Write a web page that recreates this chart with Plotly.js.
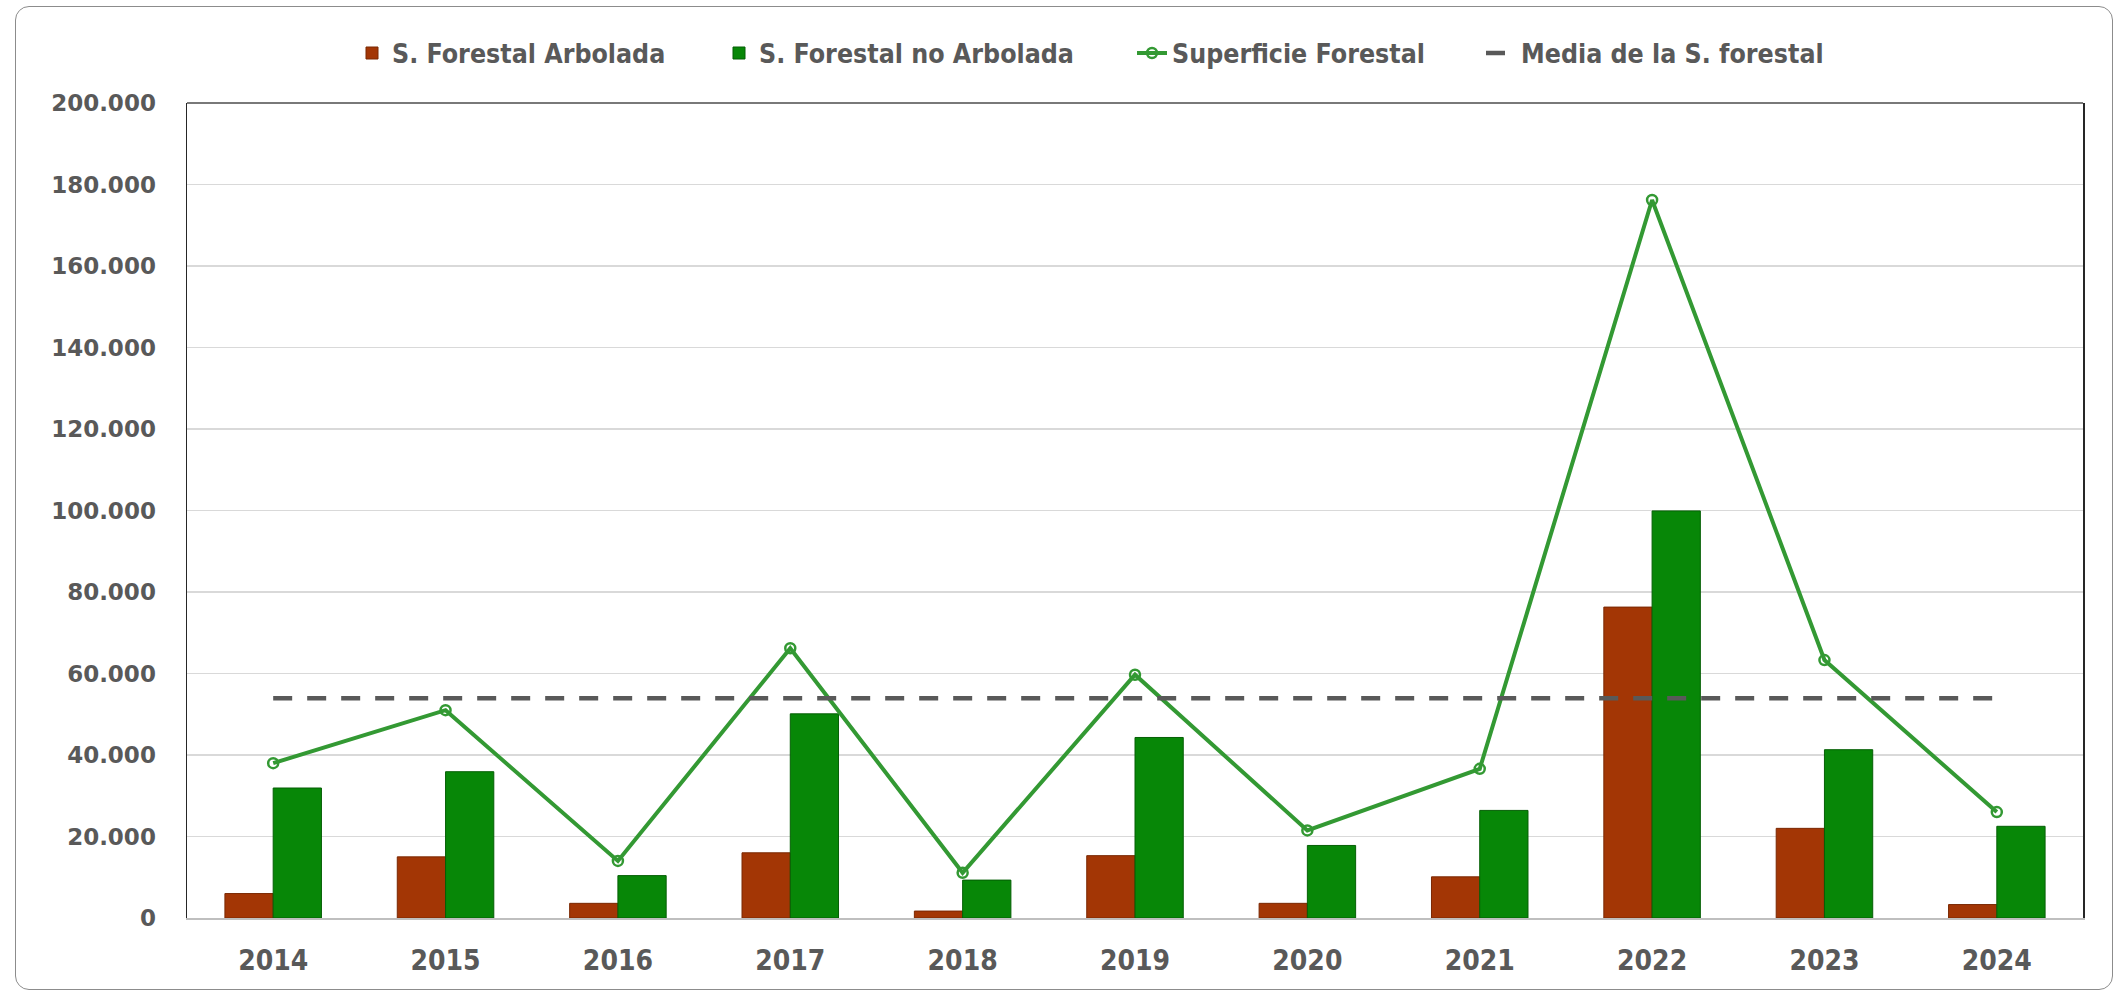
<!DOCTYPE html>
<html>
<head>
<meta charset="utf-8">
<script src="https://cdn.plot.ly/plotly-3.0.1.min.js"></script>
<style>
  html, body { margin: 0; padding: 0; background: #ffffff; }
  #chart { width: 2126px; height: 997px; }
  #frame { position: absolute; left: 15px; top: 6px; width: 2096px; height: 982px;
           border: 1.5px solid #8c8c8c; border-radius: 14px; pointer-events: none; }
</style>
</head>
<body>
<div id="chart"></div>
<div id="frame"></div>
<script>
const years = ['2014','2015','2016','2017','2018','2019','2020','2021','2022','2023','2024'];
const arbolada = [6000, 15000, 3600, 16000, 1700, 15300, 3600, 10100, 76300, 22000, 3300];
const noArbolada = [31900, 35900, 10400, 50100, 9300, 44300, 17800, 26400, 99900, 41300, 22500];
const superficie = [38000, 51000, 14000, 66200, 11100, 59700, 21500, 36600, 176200, 63300, 26000];
const media = [53900, 53900, 53900, 53900, 53900, 53900, 53900, 53900, 53900, 53900, 53900];

const narrow = '"Liberation Sans Narrow", "DejaVu Sans Condensed", "Roboto Condensed", Roboto, sans-serif';
const legFont = { family: narrow, size: 26.5, color: '#595959', weight: 'bold' };

const traces = [
  { type: 'bar', name: 'S. Forestal Arbolada', x: years, y: arbolada, legend: 'legend',
    marker: { color: '#A33605', line: { color: '#7a2803', width: 1 } } },
  { type: 'bar', name: 'S. Forestal no Arbolada', x: years, y: noArbolada, legend: 'legend2',
    marker: { color: '#078707', line: { color: '#055f05', width: 1 } } },
  { type: 'scatter', mode: 'lines+markers', name: 'Superficie Forestal', x: years, y: superficie, legend: 'legend3',
    line: { color: '#339933', width: 4 },
    marker: { symbol: 'circle-open', size: 10, color: '#339933', line: { width: 2.5, color: '#339933' } } },
  { type: 'scatter', mode: 'lines', name: 'Media de la S. forestal', x: years, y: media, legend: 'legend4',
    line: { color: '#595959', width: 4.5, dash: '19px,15px' } }
];

function leg(xpx) {
  return { orientation: 'h', x: (xpx - 187) / 1896, xanchor: 'left', y: 1.061, yanchor: 'middle',
           font: legFont, bgcolor: 'rgba(0,0,0,0)', borderwidth: 0 };
}

const layout = {
  width: 2126, height: 997,
  paper_bgcolor: '#ffffff', plot_bgcolor: '#ffffff',
  margin: { l: 187, r: 43, t: 103, b: 79 },
  separators: ',.',
  barmode: 'group', bargap: 0.44, bargroupgap: 0,
  showlegend: true,
  legend: leg(352),
  legend2: leg(719),
  legend3: leg(1132),
  legend4: leg(1481),
  xaxis: {
    type: 'category', showgrid: false, range: [-0.5, 10.5], autorange: false,
    showline: true, linecolor: '#bfbfbf', linewidth: 2,
    ticks: 'outside', ticklen: 16, tickcolor: 'rgba(0,0,0,0)',
    tickfont: { family: narrow, size: 28, color: '#595959', weight: 'bold' }
  },
  yaxis: {
    range: [0, 200000], dtick: 20000, tickformat: ',.0f',
    showgrid: true, gridcolor: '#d9d9d9', gridwidth: 1.5,
    zeroline: false,
    showline: true, mirror: true, linecolor: '#262626', linewidth: 1.5,
    ticks: 'outside', ticklen: 25, tickcolor: 'rgba(0,0,0,0)',
    tickfont: { family: '"DejaVu Sans", Verdana, sans-serif', size: 23, color: '#595959', weight: 'bold' }
  },
  shapes: [
    { type: 'line', xref: 'paper', yref: 'paper', x0: 0, x1: 1, y0: 1, y1: 1,
      line: { color: '#4d4d4d', width: 1.5 } }
  ]
};

Plotly.newPlot('chart', traces, layout, { displayModeBar: false, staticPlot: true });
</script>
</body>
</html>
